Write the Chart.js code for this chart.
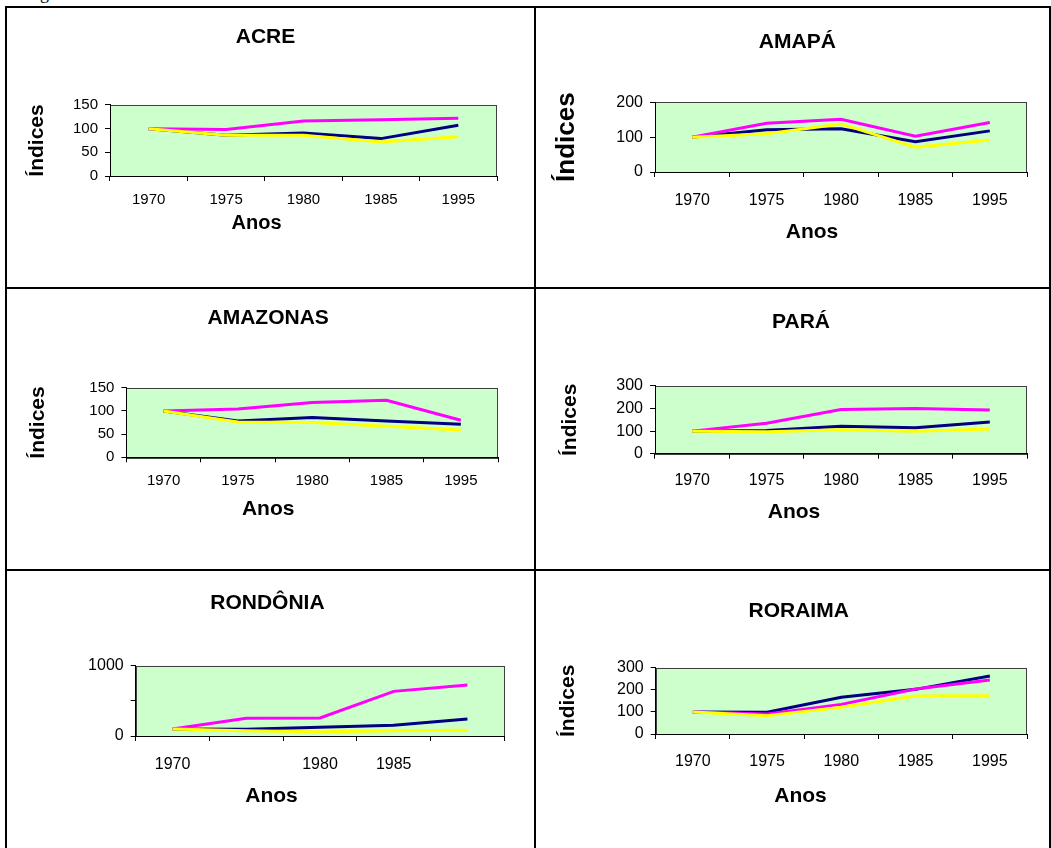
<!DOCTYPE html>
<html lang="pt-BR">
<head>
<meta charset="utf-8">
<title>Índices - Região Norte</title>
<script src="https://cdn.jsdelivr.net/npm/chart.js@4.4.1/dist/chart.umd.min.js"></script>
<style>
  html, body { margin: 0; padding: 0; background: #fff; }
  body { width: 1051px; height: 848px; position: relative; overflow: hidden; }
  .linha { position: absolute; background: #000; }
  canvas { position: absolute; display: block; }
  #topo { position: absolute; left: 25px; top: -16px; font: 18px/18px 'Liberation Serif', 'Times New Roman', serif; white-space: nowrap; }
</style>
</head>
<body>
<div id="topo">Figura</div>

<div class="linha" style="left:5px;top:6px;width:1046px;height:2px"></div>
<div class="linha" style="left:5px;top:287px;width:1046px;height:2px"></div>
<div class="linha" style="left:5px;top:569px;width:1046px;height:2px"></div>
<div class="linha" style="left:5px;top:6px;width:2px;height:842px"></div>
<div class="linha" style="left:534px;top:6px;width:2px;height:842px"></div>
<div class="linha" style="left:1049px;top:6px;width:2px;height:842px"></div>

<script>
const anos = ['1970', '1975', '1980', '1985', '1995'];

// série 1 = azul, série 2 = magenta, série 3 = amarelo
const acreAzul = [100, 86, 91, 79, 107];
const acreMagenta = [100, 98, 116, 119, 122];
const acreAmarelo = [100, 86, 86, 72, 83];
const acreTicks = [0, 50, 100, 150];

const amapaAzul = [100, 121, 124, 87, 118];
const amapaMagenta = [100, 140, 151, 103, 142];
const amapaAmarelo = [100, 110, 138, 71, 92];
const amapaTicks = [0, 100, 200];

const amazonasAzul = [100, 78, 86, 78, 71];
const amazonasMagenta = [100, 104, 118, 123, 80];
const amazonasAmarelo = [100, 76, 75, 67, 59];
const amazonasTicks = [0, 50, 100, 150];

const paraAzul = [100, 103, 122, 115, 140];
const paraMagenta = [100, 135, 196, 200, 194];
const paraAmarelo = [100, 97, 106, 99, 110];
const paraTicks = [0, 100, 200, 300];

const rondoniaAzul = [100, 95, 123, 152, 242];
const rondoniaMagenta = [100, 251, 256, 635, 725];
const rondoniaAmarelo = [100, 76, 62, 76, 81];
const rondoniaTicks = [0, 500, 1000];
const rondoniaTicksVisiveis = [0, 1000];
const rondoniaAnosVisiveis = ['1970', '1980', '1985'];

const roraimaAzul = [100, 98, 166, 202, 262];
const roraimaMagenta = [100, 90, 134, 204, 244];
const roraimaAmarelo = [100, 83, 121, 172, 173];
const roraimaTicks = [0, 100, 200, 300];

const FONTE = "'Liberation Sans', Arial, Helvetica, sans-serif";
Chart.defaults.font.family = FONTE;
Chart.defaults.color = '#000';

// fundo verde e moldura da área de plotagem
const fundoPlotagem = {
    id: 'fundoPlotagem',
    beforeDraw(chart) {
        const { ctx, chartArea: a } = chart;
        ctx.save();
        ctx.fillStyle = '#ccffcc';
        ctx.fillRect(a.left, a.top, a.right - a.left, a.bottom - a.top);
        ctx.strokeStyle = '#404040';
        ctx.lineWidth = 1;
        ctx.strokeRect(Math.round(a.left) + 0.5, Math.round(a.top) + 0.5,
            Math.round(a.right - a.left) - 1, Math.round(a.bottom - a.top));
        ctx.restore();
    },
};

// rótulo "Anos" (no original fica centrado no gráfico, não na área de plotagem)
const rotuloAnos = {
    id: 'rotuloAnos',
    afterDraw(chart, args, opts) {
        const { ctx } = chart;
        ctx.save();
        ctx.font = `bold ${opts.size}px ${FONTE}`;
        ctx.fillStyle = '#000';
        ctx.textAlign = 'center';
        ctx.textBaseline = 'middle';
        ctx.fillText(opts.text, opts.x, opts.y);
        ctx.restore();
    },
};

const colEsq = { x: 7, w: 527 };
const colDir = { x: 536, w: 513 };

const paineis = [
    {
        titulo: 'ACRE', azul: acreAzul, magenta: acreMagenta, amarelo: acreAmarelo, ticks: acreTicks,
        celula: { ...colEsq, y: 8, h: 279 },
        area: { l: 110, t: 105, r: 497, b: 176 },
        tituloPos: { x: 265.5, y: 37.5, size: 21 },
        indices: { x: 37.2, size: 21 },
        anosPos: { x: 256.5, y: 223.5, size: 20 },
        tickSize: 15, tickY: 200,
    },
    {
        titulo: 'AMAPÁ', azul: amapaAzul, magenta: amapaMagenta, amarelo: amapaAmarelo, ticks: amapaTicks,
        celula: { ...colDir, y: 8, h: 279 },
        area: { l: 655, t: 102.3, r: 1027, b: 172 },
        tituloPos: { x: 797.3, y: 42, size: 21 },
        indices: { x: 567, size: 26 },
        anosPos: { x: 812, y: 232.5, size: 21 },
        tickSize: 16, tickY: 201,
    },
    {
        titulo: 'AMAZONAS', azul: amazonasAzul, magenta: amazonasMagenta, amarelo: amazonasAmarelo, ticks: amazonasTicks,
        celula: { ...colEsq, y: 289, h: 280 },
        area: { l: 126.4, t: 387.7, r: 498, b: 457.3 },
        tituloPos: { x: 268.2, y: 318.5, size: 21 },
        indices: { x: 37.9, size: 21 },
        anosPos: { x: 268.2, y: 509, size: 21 },
        tickSize: 15, tickY: 481,
    },
    {
        titulo: 'PARÁ', azul: paraAzul, magenta: paraMagenta, amarelo: paraAmarelo, ticks: paraTicks,
        celula: { ...colDir, y: 289, h: 280 },
        area: { l: 655, t: 386, r: 1027, b: 453.7 },
        tituloPos: { x: 801, y: 322.5, size: 21 },
        indices: { x: 570, size: 21 },
        anosPos: { x: 794, y: 512.7, size: 21 },
        tickSize: 16, tickY: 481,
    },
    {
        titulo: 'RONDÔNIA', azul: rondoniaAzul, magenta: rondoniaMagenta, amarelo: rondoniaAmarelo, ticks: rondoniaTicks,
        ticksVisiveis: rondoniaTicksVisiveis, anosVisiveis: rondoniaAnosVisiveis,
        celula: { ...colEsq, y: 571, h: 277 },
        area: { l: 135.7, t: 665.7, r: 504.3, b: 736 },
        tituloPos: { x: 267.4, y: 603.5, size: 21 },
        indices: null,
        anosPos: { x: 271.5, y: 796.7, size: 21 },
        tickSize: 16, tickY: 765,
    },
    {
        titulo: 'RORAIMA', azul: roraimaAzul, magenta: roraimaMagenta, amarelo: roraimaAmarelo, ticks: roraimaTicks,
        celula: { ...colDir, y: 571, h: 277 },
        area: { l: 655.7, t: 667.7, r: 1027, b: 734 },
        tituloPos: { x: 798.7, y: 611, size: 21 },
        indices: { x: 568, size: 21 },
        anosPos: { x: 800.5, y: 796, size: 21 },
        tickSize: 16, tickY: 761.7,
    },
];

function criarPainel(p) {
    const cel = p.celula;
    const canvas = document.createElement('canvas');
    canvas.width = cel.w;
    canvas.height = cel.h;
    canvas.style.left = cel.x + 'px';
    canvas.style.top = cel.y + 'px';
    document.body.appendChild(canvas);

    const esq = p.area.l - cel.x;
    const dir = p.area.r - cel.x;
    const topo = p.area.t - cel.y;
    const base = p.area.b - cel.y;
    const padDir = cel.w - dir;
    const padEsq = 2 * (p.tituloPos.x - cel.x) - (cel.w - padDir);
    const alturaTitulo = p.tituloPos.size * 1.2;
    const tituloTopo = p.tituloPos.y - cel.y - alturaTitulo / 2;
    const alturaX = 40;
    const passo = p.ticks[1] - p.ticks[0];

    return new Chart(canvas, {
        type: 'line',
        data: {
            labels: anos,
            datasets: [
                { label: 'Série 1', data: p.azul, borderColor: '#000080', order: 3 },
                { label: 'Série 2', data: p.magenta, borderColor: '#ff00ff', order: 2 },
                { label: 'Série 3', data: p.amarelo, borderColor: '#ffff00', order: 1 },
            ],
        },
        options: {
            responsive: false,
            animation: false,
            layout: {
                padding: { left: padEsq, right: padDir, top: 0, bottom: cel.h - base - alturaX },
            },
            elements: {
                line: { borderWidth: 3, tension: 0, fill: false },
                point: { radius: 0, hoverRadius: 0 },
            },
            plugins: {
                legend: { display: false },
                tooltip: { enabled: false },
                title: {
                    display: true,
                    text: p.titulo,
                    color: '#000',
                    font: { size: p.tituloPos.size, weight: 'bold', lineHeight: 1.2 },
                    padding: { top: tituloTopo, bottom: topo - tituloTopo - alturaTitulo },
                },
                rotuloAnos: {
                    text: 'Anos',
                    x: p.anosPos.x - cel.x,
                    y: p.anosPos.y - cel.y,
                    size: p.anosPos.size,
                },
            },
            scales: {
                x: {
                    offset: true,
                    grid: { offset: true, drawOnChartArea: false, color: '#000', tickLength: 5 },
                    border: { color: '#000', width: 1 },
                    ticks: {
                        color: '#000',
                        font: { size: p.tickSize },
                        padding: (p.tickY - cel.y) - base - 5 - p.tickSize * 0.6,
                        maxRotation: 0,
                        autoSkip: false,
                        callback: (valor, i) => {
                            const ano = anos[i];
                            return !p.anosVisiveis || p.anosVisiveis.includes(ano) ? ano : '';
                        },
                    },
                    afterFit: (escala) => { escala.height = alturaX; },
                },
                y: {
                    min: p.ticks[0],
                    max: p.ticks[p.ticks.length - 1],
                    grid: { drawOnChartArea: false, color: '#000', tickLength: 5 },
                    border: { color: '#000', width: 1 },
                    ticks: {
                        stepSize: passo,
                        autoSkip: false,
                        color: '#000',
                        font: { size: p.tickSize },
                        padding: 7,
                        callback: (valor) => (!p.ticksVisiveis || p.ticksVisiveis.includes(valor) ? valor : ''),
                    },
                    title: {
                        display: !!p.indices,
                        text: 'Índices',
                        color: '#000',
                        font: { size: p.indices ? p.indices.size : 21, weight: 'bold', lineHeight: 1 },
                        padding: {
                            top: p.indices ? (p.indices.x - cel.x) - padEsq - p.indices.size / 2 : 0,
                            bottom: 0,
                        },
                    },
                    afterFit: (escala) => { escala.width = esq - padEsq; },
                },
            },
        },
        plugins: [fundoPlotagem, rotuloAnos],
    });
}

const graficos = paineis.map(criarPainel);
</script>
</body>
</html>
